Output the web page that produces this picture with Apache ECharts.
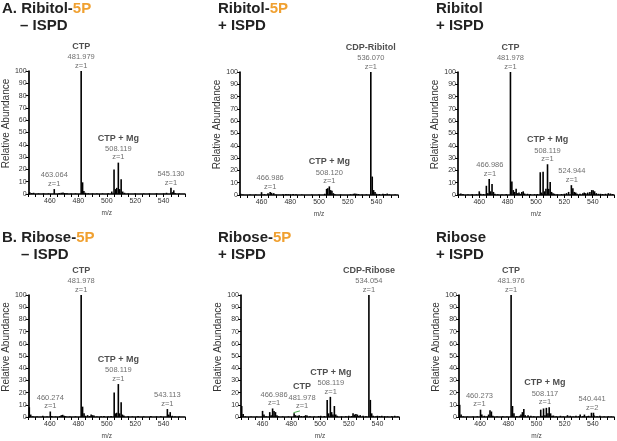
<!DOCTYPE html>
<html>
<head>
<meta charset="utf-8" />
<title>ISPD spectra</title>
<script src="https://cdn.jsdelivr.net/npm/echarts@6/dist/echarts.min.js"></script>
<style>
  html, body { margin: 0; padding: 0; background: #fff; }
  #main { width: 617px; height: 441px; }
</style>
</head>
<body>
<div id="main"></div>
<script>
// axis ticks
var mzMin = 445, mzMax = 555;
var mzLabels = [460, 480, 500, 520, 540];

// peak lists [m/z, relative abundance]
var ribitol5pNoIspd = [
  [445.8,1.5],[447.2,0.8],[448.5,1],[452,0.5],[455.5,0.6],[459,0.5],[463.06,4],[466.5,0.8],[468,1],[469.2,1.2],
  [470.5,0.8],[472,0.6],[475,0.4],[478,0.5],[481.98,100],[482.98,9.5],[483.9,2.5],[485,1],[487,0.6],[490,0.5],
  [493,0.4],[497,0.5],[501,0.6],[503.5,2],[505.1,20],[506.2,4],[507,5],[508.12,25.5],[509.1,4],[510.1,12],
  [511.2,2],[512.5,1],[515,0.5],[520,0.5],[526,0.4],[530,0.5],[535,0.6],[540,0.5],[542,1],[545.13,5],
  [546.2,1.5],[547.1,3],[548,0.8],[551,0.4]
];
var ribitol5pIspd = [
  [445.5,1],[447,0.5],[452,0.4],[456,0.4],[460,2.3],[462,0.6],[464.5,1.5],[466,2.5],[467,1.8],[468.5,1.5],
  [470,0.5],[475,0.6],[477,0.8],[478.5,0.7],[480,0.5],[482,0.8],[484,0.6],[488,0.4],[495,0.4],[500,0.4],
  [504,1],[505.3,5],[506.1,5.5],[507.2,7],[508.1,4],[509,3.5],[510,1.5],[511,0.6],[515,0.4],[522,0.6],
  [524,1],[525,1.2],[526.2,1],[527.5,0.8],[530,0.4],[533,0.5],[536.07,100],[537.07,15],[538,4],[539,2.5],
  [540,1],[542,0.8],[544.5,1],[546,0.8],[547.5,1.2],[549,0.5],[553,0.4]
];
var ribitolIspd = [
  [445.5,1],[447,1.2],[448.5,0.8],[452,0.5],[455,0.6],[458,0.5],[460,3],[461,1],[463,0.8],[465,7.5],
  [466,1.5],[467,13],[468,3],[469,9],[470,2.5],[471,1],[473,0.6],[476,0.5],[479,0.7],[481.98,100],
  [482.98,11],[484,4],[485,2.5],[486,5],[487,1.5],[488,2],[489,1],[490,2.5],[491,3],[492,1.2],
  [494,1],[496,0.8],[499,0.6],[501,0.8],[503,18.5],[504,2],[505,19],[506,3],[507,5],[508.12,25],
  [509,5],[510,10.5],[511,2.5],[512,1.5],[513,1],[515,0.6],[518,0.8],[520,1],[521.5,1.5],[523,2.5],
  [524.94,8],[526,5.5],[527,2.5],[528,2],[529,1],[531,1],[533,1.5],[534,2],[535,1.5],[536.5,2],
  [538,2.5],[539.3,4],[540.3,3.8],[541.3,3],[542.5,1.5],[544,1],[545.5,1],[547,0.8],[549,1],[551,1.5],
  [552.5,1.2],[554,0.8]
];
var ribose5pNoIspd = [
  [445.5,8],[446.5,2],[448,0.6],[451,0.5],[455,1],[458,0.5],[460.27,4.5],[461.3,0.8],[464,0.4],[467,0.8],
  [468,1.5],[469,1.8],[470,1],[471,0.7],[474,0.4],[478,0.5],[481.98,100],[482.98,8.5],[484,3],[485,1],
  [486.5,1.5],[488,0.8],[489,2],[490,1.5],[491,1.2],[493,0.5],[496,0.6],[498,0.8],[501,0.5],[503,0.8],
  [505.2,20],[506,3],[507,3.5],[508.12,27],[509,3],[510.1,12],[511,2],[512,1.2],[515,0.6],[518,0.5],
  [522,0.8],[526,0.5],[531,0.8],[535,0.5],[538,0.6],[542.6,6.5],[543.6,2],[544.6,4],[546,1],[548,0.5],
  [551,0.4]
];
var ribose5pIspd = [
  [445.5,9],[446.5,2.5],[448,0.5],[452,0.5],[456,0.4],[460,5],[461,2],[462.5,0.6],[465,4],[466,1.5],
  [467,7],[468,5],[469,4],[470,1.5],[471,0.7],[474,0.5],[478,0.5],[481.98,3],[483,1.5],[484.5,1],
  [485.5,1.5],[487,0.8],[489,0.8],[490,1.5],[491,1.2],[493,0.6],[496,0.5],[499,0.8],[500.5,1],[503,0.8],
  [505,14],[506,3],[507.2,16.5],[508.1,4],[509,2],[510,9],[511,2],[512,1],[515,0.5],[518,0.6],
  [520,1],[522,0.8],[523,3],[524,2],[525,2.5],[526,2],[527,1],[528,1.5],[530,1],[532,0.6],
  [534.05,100],[535.05,14],[536,3],[537,1],[539,0.7],[540,1],[541.5,0.8],[543,1],[545,0.6],[547,0.5],
  [550,0.6],[552,1],[554,0.5]
];
var riboseIspd = [
  [445.5,10],[446.5,2],[448,0.6],[451,0.4],[455,0.5],[458,0.6],[460.27,6],[461.2,2],[463,1],[465,0.5],
  [466,2],[467,5.5],[468,4.5],[469,1],[472,0.5],[476,0.6],[479,0.5],[481.98,100],[482.98,9],[484,3],
  [486,0.8],[488,1],[489,2],[490,4],[491,6.5],[492,1.5],[494,1.5],[496,1],[498,0.6],[501,0.5],
  [503,6],[504,1],[505,7],[506,1.5],[507,7.5],[508.12,3],[509,8],[510,3],[511,1],[512,1.2],
  [514,0.6],[517,1],[519,0.5],[522,1.5],[524,1],[526,0.5],[528,1],[530,0.6],[531,2],[533,0.8],
  [534,2],[536,0.6],[537,1],[539,3.5],[540.44,3.5],[541,1.2],[543,0.6],[545,1],[548,0.5],[551,0.6],
  [553,0.4]
];

// annotations [m/z, abundance, compound, mass, charge]
var notesA1 = [[481.98,100,'CTP','481.979','z=1'],[508.12,25.5,'CTP + Mg','508.119','z=1'],[463.06,4,'','463.064','z=1'],[545.13,5,'','545.130','z=1']];
var notesA2 = [[536.07,100,'CDP-Ribitol','536.070','z=1'],[507.2,7,'CTP + Mg','508.120','z=1'],[466,2.5,'','466.986','z=1']];
var notesA3 = [[481.98,100,'CTP','481.978','z=1'],[508.12,25,'CTP + Mg','508.119','z=1'],[467.5,13,'','466.986','z=1'],[525.3,8,'','524.944','z=1']];
var notesB1 = [[481.98,100,'CTP','481.978','z=1'],[508.12,27,'CTP + Mg','508.119','z=1'],[460.27,4.5,'','460.274','z=1'],[542.6,6.5,'','543.113','z=1']];
var notesB2 = [[534.05,100,'CDP-Ribose','534.054','z=1'],[507.5,16.5,'CTP + Mg','508.119','z=1'],[468,7,'','466.986','z=1'],[487.5,4.5,'CTP','481.978','z=1']];
var notesB3 = [[481.98,100,'CTP','481.976','z=1'],[506,8,'CTP + Mg','508.117','z=1'],[459.5,6,'','460.273','z=1'],[539.5,3.5,'','540.441','z=2']];

// leader line in B2 (CTP)
var leaderB2 = [[481.5,3.5],[486,5]];

// panel titles: [first line prefix, orange part], second line
var titlesLine1 = [['A. Ribitol-','5P'],['Ribitol-','5P'],['Ribitol',''],['B. Ribose-','5P'],['Ribose-','5P'],['Ribose','']];
var titlesLine2 = ['\u2013 ISPD','+ ISPD','+ ISPD','\u2013 ISPD','+ ISPD','+ ISPD'];

var spectra = [ribitol5pNoIspd, ribitol5pIspd, ribitolIspd, ribose5pNoIspd, ribose5pIspd, riboseIspd];
var notes = [notesA1, notesA2, notesA3, notesB1, notesB2, notesB3];

// layout
var gridLeft = [27, 240, 458, 27, 241, 459];
var gridTop = [71, 72, 72, 295, 295, 295];
var gridW = 158, gridH = 123;
var titleLeft = [2, 218, 436, 2, 218, 436];
var title2Left = [20, 218, 436, 21, 218, 436];
var titleTop = [1, 1, 1, 230, 230, 230];

var FONT = 'Liberation Sans, Arial, sans-serif';
var myChart = echarts.init(document.getElementById('main'));

var grids = [], xAxes = [], yAxes = [], series = [], titles = [];
for (var i = 0; i < 6; i++) {
  grids.push({ left: gridLeft[i], top: gridTop[i], width: gridW, height: gridH });
  xAxes.push({
    type: 'value', gridIndex: i, min: mzMin, max: mzMax, interval: 5,
    name: 'm/z', nameLocation: 'middle', nameGap: 16,
    nameTextStyle: { fontFamily: FONT, fontSize: 6.5, color: '#444' },
    axisLine: { lineStyle: { color: '#000', width: 1.7 } },
    axisTick: { length: 3, lineStyle: { color: '#000', width: 1 } },
    axisLabel: {
      fontFamily: FONT, fontSize: 7, color: '#333', margin: 4,
      formatter: function (v) { return mzLabels.indexOf(v) >= 0 ? String(v) : ''; }
    },
    splitLine: { show: false }
  });
  yAxes.push({
    type: 'value', gridIndex: i, min: 0, max: 100, interval: 10,
    name: 'Relative Abundance', nameLocation: 'middle', nameGap: 15,
    nameTextStyle: { fontFamily: FONT, fontSize: 10, color: '#333', padding: [0, 0, 0, 18] },
    axisLine: { show: true, lineStyle: { color: '#000', width: 1.7 } },
    axisTick: { show: true, length: 3, lineStyle: { color: '#000', width: 1 } },
    axisLabel: { fontFamily: FONT, fontSize: 7, color: '#333', margin: 2 },
    splitLine: { show: false }
  });
  var bar = {
    type: 'bar', xAxisIndex: i, yAxisIndex: i, barWidth: 1.6, silent: true,
    itemStyle: { color: '#000' }, data: spectra[i]
  };
  if (i === 4) {
    bar.markLine = {
      silent: true, symbol: 'none', label: { show: false },
      lineStyle: { color: '#4caf50', width: 1, type: 'solid' },
      data: [[{ coord: leaderB2[0] }, { coord: leaderB2[1] }]]
    };
  }
  series.push(bar);
  series.push({
    type: 'scatter', xAxisIndex: i, yAxisIndex: i, symbolSize: 0, silent: true, clip: false,
    data: notes[i].map(function (n) { return { value: [n[0], n[1]], note: n }; }),
    label: {
      show: true, position: 'top', distance: 1, align: 'center',
      formatter: function (p) {
        var n = p.data.note;
        var s = '{n|' + n[3] + '}\n{n|' + n[4] + '}';
        return n[2] ? '{b|' + n[2] + '}\n' + s : s;
      },
      rich: {
        b: { fontFamily: FONT, fontSize: 9, fontWeight: 'bold', color: '#222', lineHeight: 13, align: 'center' },
        n: { fontFamily: FONT, fontSize: 7.5, color: '#4a4a4a', lineHeight: 8.5, align: 'center' }
      }
    }
  });
  var t1 = titlesLine1[i];
  titles.push({
    left: titleLeft[i], top: titleTop[i], padding: 0,
    text: t1[0] + (t1[1] ? '{o|' + t1[1] + '}' : ''),
    textStyle: {
      fontFamily: FONT, fontSize: 15, fontWeight: 'bold', color: '#222',
      rich: { o: { fontFamily: FONT, fontSize: 15, fontWeight: 'bold', color: '#F0A030' } }
    }
  });
  titles.push({
    left: title2Left[i], top: titleTop[i] + 17, padding: 0,
    text: titlesLine2[i],
    textStyle: { fontFamily: FONT, fontSize: 15, fontWeight: 'bold', color: '#222' }
  });
}

var option = {
  animation: false,
  title: titles,
  grid: grids,
  xAxis: xAxes,
  yAxis: yAxes,
  series: series
};
myChart.setOption(option);
</script>
</body>
</html>
